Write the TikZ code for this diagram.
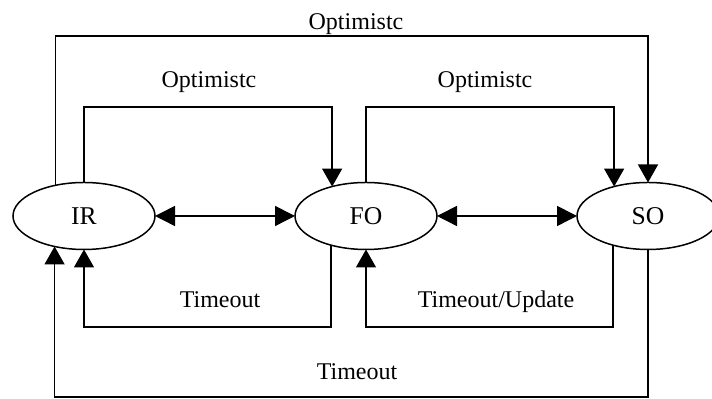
\documentclass[tikz,border=0pt]{standalone}
\usepackage{fontspec}
\setmainfont{Liberation Serif}
\usetikzlibrary{shapes.geometric,arrows.meta}
\begin{document}
\begin{tikzpicture}[x=0.5pt,y=0.5pt,
  state/.style={ellipse,draw,line width=0.75pt,minimum width=71pt,minimum height=33.5pt,inner sep=0pt,outer sep=0pt,font=\fontsize{12.8}{15}\selectfont},
  conn/.style={line width=0.75pt,-{Triangle[length=9pt,width=10pt]}},
  biconn/.style={line width=0.75pt,{Triangle[length=10pt,width=10pt]}-{Triangle[length=10pt,width=10pt]}},
  lbl/.style={anchor=base,inner sep=0pt,font=\fontsize{12}{14}\selectfont}]
\useasboundingbox (0,0) rectangle (712,399);
\node[state] (IR) at (84,183) {IR};
\node[state] (FO) at (366,183) {FO};
\node[state] (SO) at (648,183) {SO};
\coordinate (ot) at (0,363);
\coordinate (it) at (0,292);
\coordinate (ib) at (0,72);
\coordinate (ob) at (0,2);
% bidirectional
\draw[biconn] (IR.east) -- (FO.west);
\draw[biconn] (FO.east) -- (SO.west);
% top
\draw[conn] (IR.133.5) |- (SO.north |- ot) -- (SO.north);
\draw[conn] (IR.north) |- (FO.139.15 |- it) -- (FO.139.15);
\draw[conn] (FO.north) |- (SO.139.15 |- it) -- (SO.139.15);
% bottom
\draw[conn] (FO.220.85) |- (IR.south |- ib) -- (IR.south);
\draw[conn] (SO.220.85) |- (FO.south |- ib) -- (FO.south);
\draw[conn] (SO.south) |- (IR.226.5 |- ob) -- (IR.226.5);
% labels
\node[lbl] (l1) at (356,369) {Optimistc};
\node[lbl] (l2) at (209,311) {Optimistc};
\node[lbl] (l3) at (485,311) {Optimistc};
\node[lbl] (l4) at (220,91) {Timeout};
\node[lbl] (l5) at (496,91) {Timeout/Update};
\node[lbl] (l6) at (357,19) {Timeout};
\end{tikzpicture}
\end{document}
